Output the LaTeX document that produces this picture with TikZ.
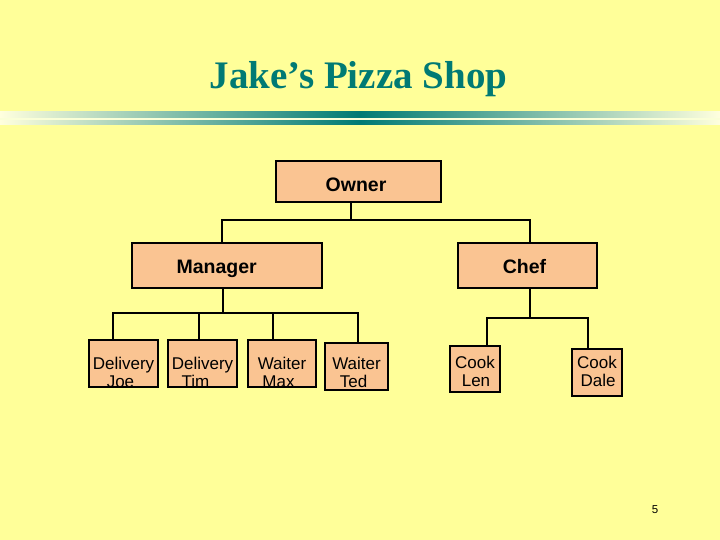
\documentclass[tikz,border=0pt]{standalone}
\usepackage{fontspec}
\setmainfont{Liberation Serif}
\newfontfamily\arialf{Liberation Sans}
\definecolor{bg}{RGB}{255,255,153}
\definecolor{peach}{RGB}{250,196,146}
\definecolor{tealtitle}{RGB}{0,122,116}
\definecolor{cream}{RGB}{255,255,222}
\definecolor{gapcol}{RGB}{250,255,215}
\tikzset{
  box/.style={draw=black, line width=1.8pt, fill=peach, rectangle, inner sep=0pt},
  conn/.style={draw=black, line width=2pt},
  toptxt/.style={font=\arialf\bfseries\fontsize{19.5}{23}\selectfont, inner sep=0pt},
  subtxt/.style={font=\arialf\fontsize{17}{20}\selectfont, inner sep=0pt},
  oneline/.style n args={3}{path picture={\node[toptxt, anchor=base] at ([xshift=#2, yshift=#3]path picture bounding box.center) {#1};}},
  twoline/.style n args={4}{path picture={
     \node[subtxt, anchor=base] at ([yshift=#3]path picture bounding box.center) {#1};
     \node[subtxt, anchor=base] at ([xshift=#4, yshift=#3-18pt]path picture bounding box.center) {#2};}},
  titletxt/.style={font=\bfseries\fontsize{39}{44}\selectfont, text=tealtitle, inner sep=0pt},
  pagetxt/.style={font=\arialf\fontsize{11.5}{13}\selectfont, inner sep=0pt}
}
\begin{document}
\begin{tikzpicture}[x=1pt,y=-1pt]
\useasboundingbox (0,0) rectangle (720,540);
\fill[bg] (0,0) rectangle (720,540);
% decorative rule
\shade[left color=cream, right color=cream, middle color=tealtitle] (0,112) rectangle (720,118);
\fill[gapcol] (0,118) rectangle (720,121);
\shade[left color=cream, right color=cream, middle color=tealtitle] (0,121) rectangle (720,125);
% title
\node[titletxt, anchor=base] (title) at (358.5,89) {Jake’s Pizza Shop};
% boxes
\node[box, minimum width=165, minimum height=41, oneline={Owner}{-2.5pt}{-10pt}] (owner) at (358.5,181.5) {};
\node[box, minimum width=190, minimum height=45, oneline={Manager}{-10.3pt}{-7.5pt}] (manager) at (227,265.5) {};
\node[box, minimum width=139, minimum height=45, oneline={Chef}{-3pt}{-7.5pt}] (chef) at (527.5,265.5) {};
\node[box, minimum width=69, minimum height=47, twoline={Delivery}{Joe}{-5.5pt}{-3pt}] (joe) at (123.5,363.5) {};
\node[box, minimum width=69, minimum height=47, twoline={Delivery}{Tim}{-5.5pt}{-7pt}] (tim) at (202.5,363.5) {};
\node[box, minimum width=68, minimum height=47, twoline={Waiter}{Max}{-5.5pt}{-3.5pt}] (max) at (282,363.5) {};
\node[box, minimum width=63, minimum height=47, twoline={Waiter}{Ted}{-2.5pt}{-3pt}] (ted) at (356.5,366.5) {};
\node[box, minimum width=50, minimum height=46, twoline={Cook}{Len}{1pt}{1pt}] (len) at (475,369) {};
\node[box, minimum width=50, minimum height=47, twoline={Cook}{Dale}{4.5pt}{1pt}] (dale) at (597,372.5) {};
% connectors
\draw[conn] ([xshift=-7.5pt]owner.south) -- ++(0,17) coordinate (oj);
\draw[conn] ([xshift=-5pt]manager.north) |- (oj) -| ([xshift=2.5pt]chef.north);
\draw[conn] ([xshift=-4.5pt]manager.south) -- ++(0,24) coordinate (mj);
\draw[conn] ([xshift=-10.5pt]joe.north) |- (mj) -| ([xshift=1.5pt]ted.north);
\draw[conn] ([xshift=-3.5pt]tim.north) -- ([xshift=-3.5pt]tim.north |- mj);
\draw[conn] ([xshift=-9pt]max.north) -- ([xshift=-9pt]max.north |- mj);
\draw[conn] ([xshift=2.5pt]chef.south) -- ++(0,29) coordinate (cj);
\draw[conn] ([xshift=12pt]len.north) |- (cj) -| ([xshift=-9pt]dale.north);
% page number
\node[pagetxt] (pagenum) at (655,510) {5};
\end{tikzpicture}
\end{document}
